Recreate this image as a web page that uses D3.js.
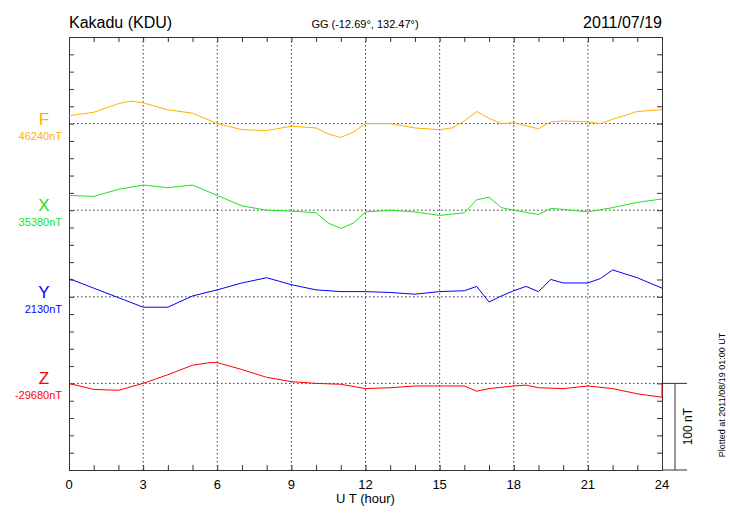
<!DOCTYPE html>
<html><head><meta charset="utf-8">
<script src="https://cdn.jsdelivr.net/npm/d3@7"></script>
<style>body{margin:0;background:#fff}text{font-family:"Liberation Sans",Arial,sans-serif}</style>
</head><body>
<svg id="chart" width="730" height="520"></svg>
<script>
// hour ticks
var xTicks = [0, 3, 6, 9, 12, 15, 18, 21, 24];

// components: name, baseline level (nT), colour
var comps = ['F', 'X', 'Y', 'Z'];
var baseLabels = ['46240nT', '35380nT', '2130nT', '-29680nT'];
var colors = ['#ffb000', '#22e022', '#0000ff', '#ff0000'];
var offsets = [400, 300, 200, 100]; // plot offset in nT

// deviations from baseline (nT) at given hours
var fHours = [0,1,2,2.5,3,4,5,6,7,8,9,10,10.5,11,11.5,12,13,14,15,15.5,16,16.5,17,17.5,18,19,19.5,20,21,21.5,22,23,24];
var fVals  = [9,13,23,26,24,16,12,0,-7,-8,-3,-5,-12,-16,-10,0,0,-5,-7,-5,3,14,6,0,1,-6,2,3,2,0,5,14,16];
var xHours = [0,1,2,3,4,5,6,7,8,9,10,10.5,11,11.5,12,13,14,15,16,16.5,17,17.5,18,19,19.5,20,21,22,23,24];
var xVals  = [17,16,24,29,26,29,17,5,0,-1,-3,-15,-21,-15,-2,0,-2,-6,-3,12,15,3,0,-5,2,1,-2,3,9,13];
var yHours = [0,1,2,3,4,5,6,7,8,9,10,11,12,13,14,15,16,16.5,17,17.5,18,18.5,19,19.5,20,21,21.5,22,23,24];
var yVals  = [21,10,-1,-12,-12,1,8,16,22,14,8,6,6,5,3,6,7,12,-6,1,7,12,6,20,16,16,21,31,22,10];
var zHours = [0,1,2,3,4,5,5.7,6,7,8,9,10,11,12,13,14,15,16,16.5,17,18,18.5,19,20,21,22,23,24,24];
var zVals  = [0,-7,-8,0,10,21,24,24,16,7,2,0,-1,-6,-5,-3,-3,-3,-9,-6,-3,-2,-5,-6,-3,-6,-12,-16,0];

var series = [[fHours, fVals], [xHours, xVals], [yHours, yVals], [zHours, zVals]];

var svg = d3.select('#chart');
var L = 69, R = 662, T = 37, B = 470;
var x = d3.scaleLinear().domain([0, 24]).range([L, R]);
var y = d3.scaleLinear().domain([0, 500]).range([B, T]);

// dotted grid
svg.selectAll('.vg').data(xTicks.slice(1, -1)).enter().append('line')
  .attr('x1', d => x(d)).attr('x2', d => x(d)).attr('y1', T).attr('y2', B)
  .attr('stroke', '#000').attr('stroke-width', 0.8).attr('stroke-dasharray', '1.5,2.5');
svg.selectAll('.hg').data(offsets).enter().append('line')
  .attr('x1', L).attr('x2', R).attr('y1', d => y(d)).attr('y2', d => y(d))
  .attr('stroke', '#000').attr('stroke-width', 0.8).attr('stroke-dasharray', '1.5,2.5');

// axes with inward ticks
var hours = d3.range(0, 25);
var levels = d3.range(0, 501, 20);
svg.append('g').attr('transform', 'translate(0,' + B + ')')
  .call(d3.axisTop(x).tickValues(hours).tickSize(5).tickFormat(''));
svg.append('g').attr('transform', 'translate(0,' + T + ')')
  .call(d3.axisBottom(x).tickValues(hours).tickSize(5).tickFormat(''));
svg.append('g').attr('transform', 'translate(' + L + ',0)')
  .call(d3.axisRight(y).tickValues(levels).tickSize(5).tickFormat(''));
svg.append('g').attr('transform', 'translate(' + R + ',0)')
  .call(d3.axisLeft(y).tickValues(levels).tickSize(5).tickFormat(''));
svg.selectAll('.domain').attr('stroke', '#333');
svg.selectAll('.tick line').attr('stroke', '#333');

svg.selectAll('.xl').data(xTicks).enter().append('text')
  .attr('x', d => x(d)).attr('y', 489).attr('text-anchor', 'middle')
  .attr('font-size', 13).text(d => d);
svg.append('text').attr('x', x(12)).attr('y', 503).attr('text-anchor', 'middle')
  .attr('font-size', 13).text('U T (hour)');

// lines
var line = d3.line().x(d => x(d[0])).y(d => y(d[1]));
series.forEach(function (s, i) {
  var pts = s[0].map((h, j) => [h, s[1][j] + offsets[i]]);
  svg.append('path').attr('d', line(pts)).attr('fill', 'none')
    .attr('stroke', colors[i]).attr('stroke-width', 1);
  svg.append('text').attr('x', 44).attr('y', y(offsets[i]) + 1).attr('text-anchor', 'middle')
    .attr('font-size', 17).attr('fill', colors[i]).text(comps[i]);
  svg.append('text').attr('x', 62).attr('y', y(offsets[i]) + 16).attr('text-anchor', 'end')
    .attr('font-size', 11).attr('fill', colors[i]).text(baseLabels[i]);
});

// 100 nT scale bar
var sb = svg.append('g').attr('stroke', '#333');
sb.append('line').attr('x1', R).attr('x2', 687).attr('y1', y(100)).attr('y2', y(100));
sb.append('line').attr('x1', R).attr('x2', 687).attr('y1', y(0)).attr('y2', y(0));
sb.append('line').attr('x1', 675).attr('x2', 675).attr('y1', y(100)).attr('y2', y(0));
svg.append('text').attr('transform', 'translate(692,' + y(50) + ') rotate(-90)')
  .attr('text-anchor', 'middle').attr('font-size', 12).text('100 nT');

// titles
svg.append('text').attr('x', 69).attr('y', 28).attr('font-size', 16).text('Kakadu (KDU)');
svg.append('text').attr('x', 365).attr('y', 28).attr('text-anchor', 'middle').attr('font-size', 11).text('GG (-12.69°, 132.47°)');
svg.append('text').attr('x', 662).attr('y', 28).attr('text-anchor', 'end').attr('font-size', 16).text('2011/07/19');
svg.append('text').attr('transform', 'translate(725,' + 395 + ') rotate(-90)')
  .attr('text-anchor', 'middle').attr('font-size', 9).text('Plotted at 2011/08/19 01:00 UT');
</script>
</body></html>
